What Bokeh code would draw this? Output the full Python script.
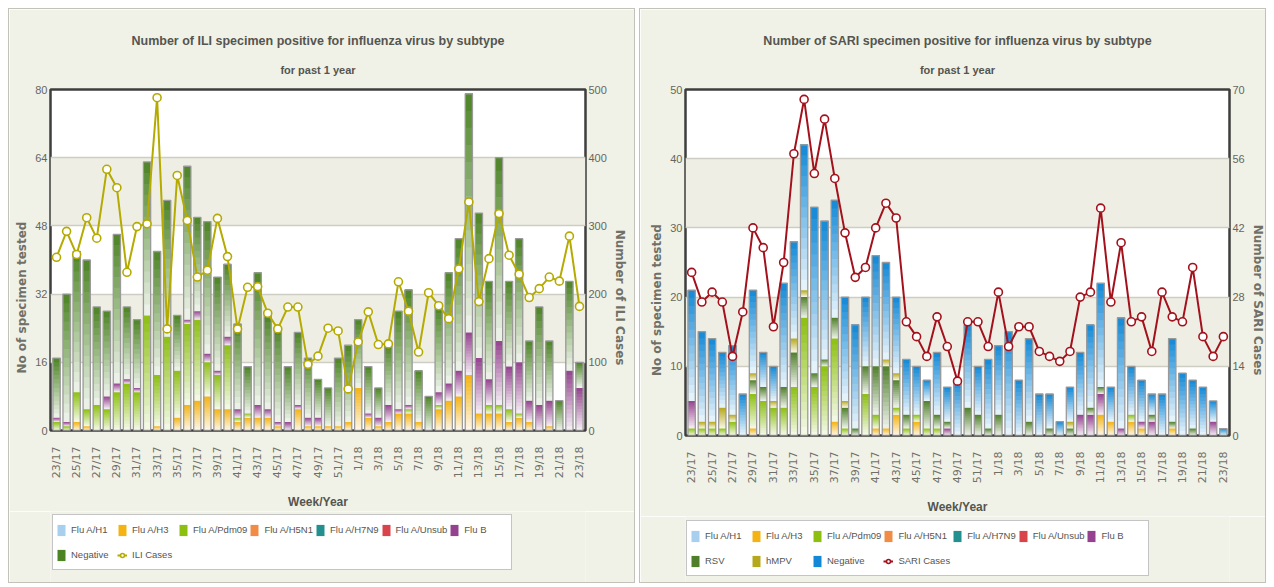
import math
from bokeh.plotting import figure
from bokeh.models import (Range1d, LinearAxis, FixedTicker, ColumnDataSource,
                          Legend, LegendItem, Title)
from bokeh.layouts import row, column
from bokeh.embed import file_html
from bokeh.resources import INLINE

# ---------------- data ----------------
weeks = ["23/17", "24/17", "25/17", "26/17", "27/17", "28/17", "29/17", "30/17", "31/17", "32/17",
         "33/17", "34/17", "35/17", "36/17", "37/17", "38/17", "39/17", "40/17", "41/17", "42/17",
         "43/17", "44/17", "45/17", "46/17", "47/17", "48/17", "49/17", "50/17", "51/17", "52/17",
         "1/18", "2/18", "3/18", "4/18", "5/18", "6/18", "7/18", "8/18", "9/18", "10/18",
         "11/18", "12/18", "13/18", "14/18", "15/18", "16/18", "17/18", "18/18", "19/18", "20/18",
         "21/18", "22/18", "23/18"]

zeros = [0] * 53

# ILI chart
ili_h1 = zeros
ili_h3 = [0, 0, 2, 1, 0, 0, 0, 0, 0, 0, 1, 0, 3, 6, 7, 8, 5, 5, 2, 3,
          3, 3, 1, 0, 5, 1, 1, 1, 1, 2, 10, 3, 1, 2, 4, 4, 2, 0, 5, 7,
          8, 13, 4, 4, 4, 2, 3, 2, 0, 1, 0, 0, 0]
ili_pdm = [2, 1, 7, 4, 6, 5, 9, 11, 9, 27, 12, 22, 11, 19, 19, 8, 8, 15, 1, 1,
           0, 0, 0, 0, 0, 0, 0, 0, 0, 0, 0, 0, 0, 0, 0, 1, 0, 0, 1, 0,
           0, 0, 0, 2, 2, 3, 1, 0, 0, 0, 0, 0, 0]
ili_h5n1 = zeros
ili_h7n9 = zeros
ili_unsub = zeros
ili_b = [1, 1, 0, 0, 0, 3, 2, 1, 1, 0, 0, 0, 0, 1, 2, 2, 1, 2, 2, 0,
         3, 2, 1, 2, 1, 2, 2, 0, 0, 0, 0, 1, 2, 4, 1, 1, 0, 0, 3, 4,
         6, 10, 13, 6, 15, 10, 12, 5, 6, 6, 0, 14, 10]
ili_neg = [14, 30, 33, 35, 23, 20, 35, 17, 16, 36, 29, 32, 13, 36, 22, 31, 22, 17, 20, 11,
           31, 22, 22, 13, 17, 14, 9, 9, 16, 18, 16, 11, 7, 14, 23, 27, 12, 8, 20, 26,
           31, 56, 34, 23, 43, 20, 29, 14, 23, 14, 7, 21, 6]
ili_cases = [254, 292, 258, 312, 282, 383, 356, 232, 299, 303, 488, 149, 374, 308, 225, 235, 311, 255, 149, 210,
             211, 172, 149, 181, 181, 97, 109, 150, 146, 61, 130, 174, 126, 127, 218, 175, 115, 202, 183, 164,
             237, 335, 189, 252, 318, 257, 229, 195, 208, 225, 219, 285, 182]

# SARI chart
sari_h1 = zeros
sari_h3 = [0, 0, 0, 0, 0, 0, 1, 0, 0, 0, 0, 0, 0, 0, 2, 0, 0, 0, 1, 1,
           3, 0, 2, 0, 0, 0, 0, 0, 0, 0, 0, 0, 0, 0, 0, 0, 0, 0, 0, 0,
           3, 2, 0, 2, 1, 0, 0, 1, 0, 0, 0, 0, 0]
sari_pdm = [1, 1, 1, 1, 2, 0, 5, 5, 4, 4, 7, 17, 7, 10, 12, 1, 0, 6, 2, 0,
            1, 1, 1, 1, 1, 0, 0, 0, 0, 0, 0, 0, 0, 0, 0, 0, 0, 0, 0, 0,
            0, 0, 0, 1, 0, 0, 0, 0, 0, 0, 0, 0, 0]
sari_h5n1 = zeros
sari_h7n9 = zeros
sari_unsub = zeros
sari_b = [4, 0, 0, 0, 0, 0, 0, 0, 0, 0, 0, 0, 0, 0, 0, 0, 0, 0, 0, 0,
          0, 0, 0, 0, 0, 1, 0, 0, 0, 0, 0, 0, 0, 0, 0, 0, 0, 0, 3, 3,
          3, 0, 1, 0, 1, 2, 0, 0, 0, 0, 0, 2, 0]
sari_rsv = [0, 0, 0, 0, 0, 0, 2, 2, 0, 3, 5, 3, 2, 1, 3, 3, 1, 4, 7, 9,
            4, 2, 0, 4, 2, 1, 0, 4, 3, 1, 3, 0, 0, 2, 0, 1, 0, 1, 0, 1,
            1, 0, 0, 0, 0, 1, 0, 1, 0, 1, 0, 0, 0]
sari_hmpv = [0, 1, 1, 3, 1, 0, 1, 0, 1, 0, 2, 1, 0, 0, 0, 1, 0, 0, 0, 1,
             1, 0, 0, 0, 0, 0, 0, 0, 0, 0, 0, 0, 0, 0, 0, 0, 0, 1, 0, 0,
             0, 0, 0, 0, 0, 0, 0, 0, 0, 0, 0, 0, 0]
sari_neg = [16, 13, 12, 8, 10, 6, 12, 5, 5, 15, 14, 21, 24, 20, 17, 15, 15, 10, 16, 14,
            11, 8, 7, 3, 9, 5, 8, 12, 7, 10, 10, 15, 8, 12, 6, 5, 2, 5, 9, 12,
            15, 5, 16, 7, 6, 3, 6, 12, 9, 7, 7, 3, 1]
sari_cases = [33, 27, 29, 27, 16, 25, 42, 38, 22, 35, 57, 68, 53, 64, 52, 41, 32, 34, 42, 47,
              44, 23, 20, 16, 24, 18, 11, 23, 23, 18, 29, 18, 22, 22, 17, 16, 15, 17, 28, 29,
              46, 27, 39, 23, 24, 17, 29, 24, 23, 34, 20, 16, 20]

ili_left_ticks = [0, 16, 32, 48, 64, 80]
ili_right_ticks = [0, 100, 200, 300, 400, 500]
sari_left_ticks = [0, 10, 20, 30, 40, 50]
sari_right_ticks = [0, 14, 28, 42, 56, 70]

# ---------------- style ----------------
NARROW = "Liberation Sans"
WIDE = "DejaVu Sans"
PANEL_BG = "#f1f2e7"
PANEL_BORDER = "#c2c2ba"
TXT = "#555550"
PAD = "\u00a0" * 18   # pushes the rotated axis titles below the frame centre, as in the original

C_H1 = "#a9cfee"
C_H3 = "#f4b313"
C_PDM = "#8cbf10"
C_H5 = "#f08c46"
C_H7 = "#238f8f"
C_UNS = "#d9434a"
C_B = "#94428f"
C_NEG_ILI = "#4c8424"
C_RSV = "#4f7f2a"
C_HMPV = "#b5a81c"
C_NEG_SARI = "#1288d6"
C_ILI = "#b5ab00"
C_SARI = "#a3121c"

NSLICE = 14
FIG_W = 627
TOTAL_H = 575


def mix(c, t):
    r, g, b = int(c[1:3], 16), int(c[3:5], 16), int(c[5:7], 16)
    r = round(r + (255 - r) * t)
    g = round(g + (255 - g) * t)
    b = round(b + (255 - b) * t)
    return "#%02x%02x%02x" % (r, g, b)


def gradient_source(series, colors):
    xs, bots, tops, cols = [], [], [], []
    base = [0] * len(series[0])
    for vals, col in zip(series, colors):
        for i, v in enumerate(vals):
            if v > 0:
                b = base[i]
                t = b + v
                for k in range(NSLICE):
                    xs.append(i)
                    bots.append(b + v * k / NSLICE)
                    tops.append(t)
                    cols.append(mix(col, 0.92 * (1 - (k + 0.5) / NSLICE)))
            base[i] += v
    return ColumnDataSource(dict(x=xs, bottom=bots, top=tops, color=cols)), base


def make_chart(title, series, colors, cases, case_color,
               left_ticks, right_ticks, left_label, right_label,
               border_left, border_right, height, border_bottom):
    n = len(weeks)
    p = figure(width=FIG_W, height=height, output_backend="svg", toolbar_location=None,
               x_range=Range1d(-0.6, n - 0.4),
               y_range=Range1d(left_ticks[0], left_ticks[-1]),
               min_border_left=border_left, min_border_right=border_right,
               min_border_top=80, min_border_bottom=border_bottom)
    p.styles = {"border-style": "solid", "border-color": PANEL_BORDER,
                "border-width": "1px 1px 0px 1px"}
    p.border_fill_color = PANEL_BG
    p.background_fill_color = "white"
    p.outline_line_color = "#3e3e3e"
    p.outline_line_width = 2.5

    p.extra_y_ranges = {"right": Range1d(right_ticks[0], right_ticks[-1])}

    # titles
    p.title.text = title
    p.title.align = "center"
    p.title.text_font = NARROW
    p.title.text_font_size = "12.5px"
    p.title.text_font_style = "bold"
    p.title.text_color = TXT
    p.title.standoff = 0
    p.add_layout(Title(text="for past 1 year", align="center", text_font=NARROW,
                       text_font_size="11px", text_font_style="bold",
                       text_color=TXT, standoff=28), "above")

    # grid
    p.xgrid.visible = False
    p.ygrid.ticker = FixedTicker(ticks=left_ticks)
    p.ygrid.band_fill_color = "#eeeee5"
    p.ygrid.band_fill_alpha = 1.0
    p.ygrid.grid_line_color = "#cdcdc4"
    p.ygrid.grid_line_width = 1.5

    # bars with vertical gradient
    src, totals = gradient_source(series, colors)
    p.vbar(x="x", bottom="bottom", top="top", width=0.72, source=src,
           fill_color="color", line_color=None)
    p.vbar(x=list(range(n)), bottom=0, top=totals, width=0.72,
           fill_color=None, line_color="#9a9a9a", line_width=1.3)

    # cases line
    p.line(list(range(n)), cases, y_range_name="right", line_color=case_color, line_width=2)
    p.scatter(list(range(n)), cases, y_range_name="right", size=8,
              fill_color="white", line_color=case_color, line_width=1.6)

    # axes
    ax = p.yaxis[0]
    ax.ticker = FixedTicker(ticks=left_ticks)
    ax.axis_label = left_label + PAD
    rax = LinearAxis(y_range_name="right", ticker=FixedTicker(ticks=right_ticks),
                     axis_label=PAD + right_label)
    p.add_layout(rax, "right")
    for a in (ax, rax):
        a.axis_line_color = None
        a.major_tick_line_color = None
        a.minor_tick_line_color = None
        a.major_tick_out = 0
        a.major_tick_in = 0
        a.major_label_text_font = NARROW
        a.major_label_text_font_size = "11px"
        a.major_label_text_color = "#666660"
        a.major_label_standoff = 3
        a.axis_label_text_font = WIDE
        a.axis_label_text_font_size = "12px"
        a.axis_label_text_font_style = "bold"
        a.axis_label_text_color = "#707068"
        a.axis_label_standoff = 3

    xa = p.xaxis[0]
    xa.ticker = FixedTicker(ticks=list(range(0, n, 2)))
    xa.major_label_overrides = {i: weeks[i] for i in range(0, n, 2)}
    xa.major_label_orientation = math.pi / 2
    xa.axis_line_color = None
    xa.major_tick_line_color = None
    xa.minor_tick_line_color = None
    xa.major_label_text_font = WIDE
    xa.major_label_text_font_size = "11px"
    xa.major_label_text_color = "#707068"
    xa.major_label_standoff = 10
    xa.axis_label = "Week/Year"
    xa.axis_label_text_font = NARROW
    xa.axis_label_text_font_size = "12px"
    xa.axis_label_text_font_style = "bold"
    xa.axis_label_text_color = TXT
    xa.axis_label_standoff = 14
    return p


def make_legend(names, colors, case_name, case_color, height, loc):
    lp = figure(width=FIG_W, height=height, output_backend="svg", toolbar_location=None,
                title=None, x_axis_type=None, y_axis_type=None,
                x_range=Range1d(0, 1), y_range=Range1d(0, 1),
                min_border_left=0, min_border_right=0, min_border_top=0, min_border_bottom=0)
    lp.styles = {"border-style": "solid", "border-color": PANEL_BORDER,
                 "border-width": "0px 1px 1px 1px"}
    lp.grid.visible = False
    lp.outline_line_color = None
    lp.background_fill_color = PANEL_BG
    lp.border_fill_color = PANEL_BG
    items = []
    # legend proxies: one off-screen point each so that the legend can draw its glyph
    for nm, col in zip(names, colors):
        r = lp.vbar(x=[-5], top=[-5], bottom=[-6], width=0.5, fill_color=col, line_color=None)
        items.append(LegendItem(label=nm, renderers=[r]))
    ln = lp.line(x=[-5, -6], y=[-5, -6], line_color=case_color, line_width=2)
    sc = lp.scatter(x=[-5], y=[-5], size=7, fill_color="white", line_color=case_color, line_width=1.6)
    items.append(LegendItem(label=case_name, renderers=[ln, sc]))
    legend = Legend(items=items, location=loc, orientation="horizontal", ncols=7,
                    glyph_width=10, glyph_height=14, label_standoff=5, label_width=44,
                    label_height=23, spacing=2, padding=3, margin=0,
                    label_text_font=NARROW, label_text_font_size="9.5px",
                    label_text_color="#555550",
                    border_line_color="#8a8a8a", border_line_width=1.5,
                    background_fill_color="white", background_fill_alpha=1.0)
    lp.add_layout(legend, "center")
    return lp


ili_series = [ili_h1, ili_h3, ili_pdm, ili_h5n1, ili_h7n9, ili_unsub, ili_b, ili_neg]
ili_colors = [C_H1, C_H3, C_PDM, C_H5, C_H7, C_UNS, C_B, C_NEG_ILI]
ili_names = ["Flu A/H1", "Flu A/H3", "Flu A/Pdm09", "Flu A/H5N1", "Flu A/H7N9",
             "Flu A/Unsub", "Flu B", "Negative"]

sari_series = [sari_h1, sari_h3, sari_pdm, sari_h5n1, sari_h7n9, sari_unsub, sari_b,
               sari_rsv, sari_hmpv, sari_neg]
sari_colors = [C_H1, C_H3, C_PDM, C_H5, C_H7, C_UNS, C_B, C_RSV, C_HMPV, C_NEG_SARI]
sari_names = ["Flu A/H1", "Flu A/H3", "Flu A/Pdm09", "Flu A/H5N1", "Flu A/H7N9",
              "Flu A/Unsub", "Flu B", "RSV", "hMPV", "Negative"]

H1 = 503
p1 = make_chart("Number of ILI specimen positive for influenza virus by subtype",
                ili_series, ili_colors, ili_cases, C_ILI,
                ili_left_ticks, ili_right_ticks, "No of specimen tested", "Number of ILI Cases",
                41, 51, H1, H1 - 80 - 348)
l1 = make_legend(ili_names, ili_colors, "ILI Cases", C_ILI, TOTAL_H - H1, (2, 13))

H2 = 508
p2 = make_chart("Number of SARI specimen positive for influenza virus by subtype",
                sari_series, sari_colors, sari_cases, C_SARI,
                sari_left_ticks, sari_right_ticks, "No of specimen tested", "Number of SARI Cases",
                45, 37, H2, H2 - 80 - 353)
l2 = make_legend(sari_names, sari_colors, "SARI Cases", C_SARI, TOTAL_H - H2, (1, 7))

layout = row(column(p1, l1, spacing=0), column(p2, l2, spacing=0), spacing=4, margin=(8, 0, 0, 8))
open("out.html", "w").write(file_html(layout, INLINE))
